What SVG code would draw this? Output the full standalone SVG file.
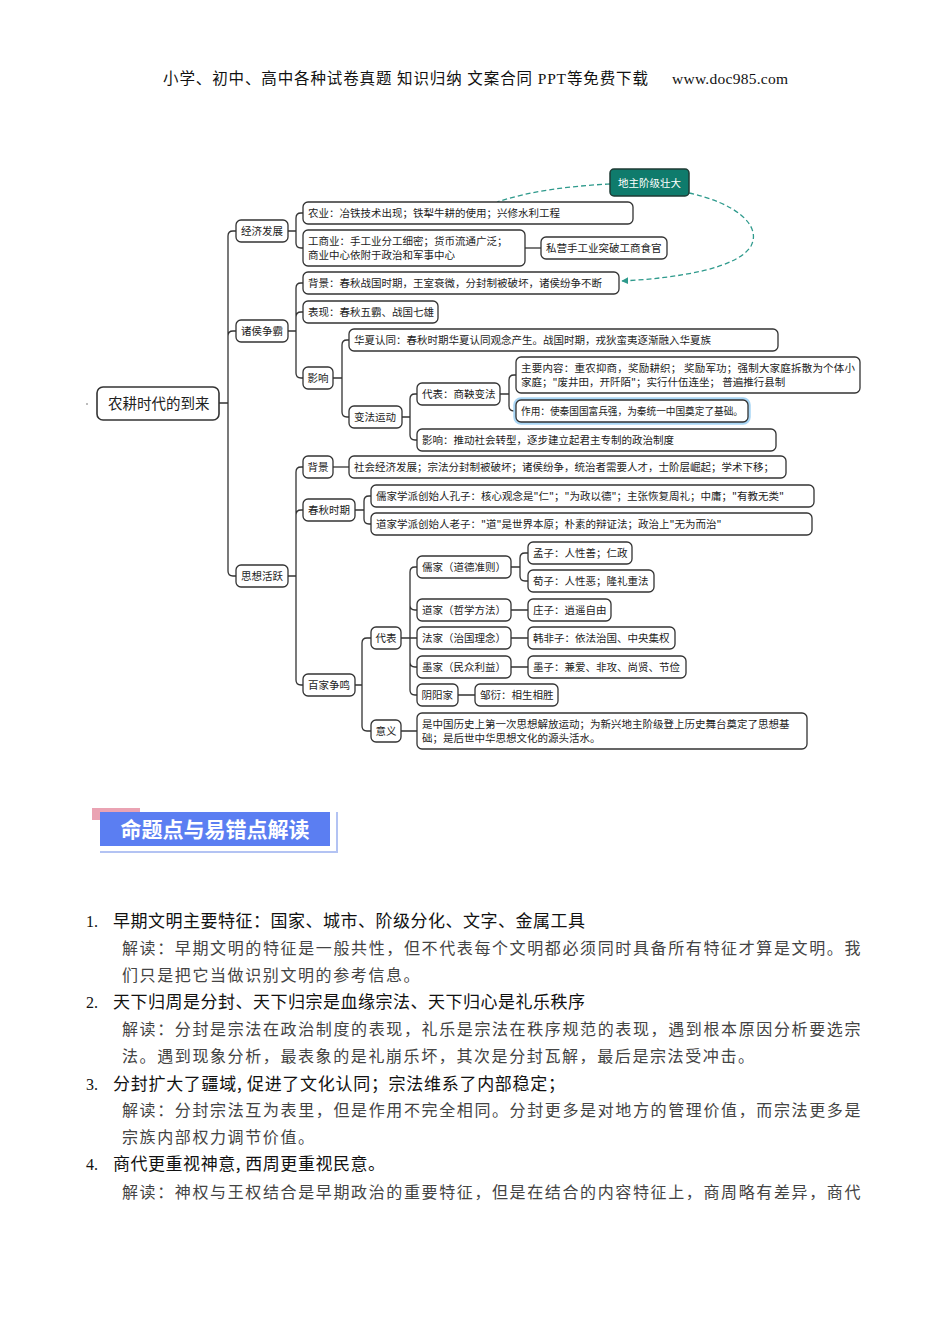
<svg xmlns="http://www.w3.org/2000/svg" width="950" height="1344" viewBox="0 0 950 1344">
<style>
.n{fill:#fff;stroke:#333;stroke-width:1.3}
.t{font-family:"Noto Sans CJK SC","Noto Sans",sans-serif;font-size:10.5px;fill:#222}
.c{fill:none;stroke:#333;stroke-width:1.3}
.d{fill:none;stroke:#2e9a8c;stroke-width:1.3;stroke-dasharray:5 3}
.h{font-family:"Liberation Serif","Noto Sans CJK SC",serif;font-size:15.5px;fill:#111}
.q{font-family:"Noto Sans CJK SC",sans-serif;font-size:17px;fill:#111}
.e{font-family:"Noto Sans CJK SC",sans-serif;font-size:16px;fill:#444;letter-spacing:1.6px}
.num{font-family:"Liberation Serif",serif;font-size:16px;fill:#111}
</style>
<defs>
<marker id="ah" viewBox="0 0 10 10" refX="9" refY="5" markerWidth="7" markerHeight="7" orient="auto-start-reverse" markerUnits="userSpaceOnUse">
<path d="M0 0 L10 5 L0 10 z" fill="#2e9a8c"/>
</marker>
</defs>
<rect width="950" height="1344" fill="#fff"/>
<g id="header">
<text class="h" x="163" y="84" textLength="485" lengthAdjust="spacing">小学、初中、高中各种试卷真题 知识归纳 文案合同 PPT等免费下载</text>
<text class="h" x="672" y="84" textLength="116" lengthAdjust="spacing">www.doc985.com</text>
</g>
<g id="connectors">
<path class="c" d="M219 403 H228 V236 Q228 231 233 231 H236 M228 403 V336 Q228 331 233 331 H236 M228 403 V571 Q228 576 233 576 H236"/>
<path class="c" d="M288 231 H296 V218 Q296 213 301 213 H303 M296 231 V243 Q296 248 301 248 H303"/>
<path class="c" d="M525 248 H541"/>
<path class="c" d="M288 331 H296 V288 Q296 283 301 283 H303 M296 331 V317 Q296 312 301 312 H303 M296 331 V373 Q296 378 301 378 H303"/>
<path class="c" d="M333 378 H342 V345 Q342 340 347 340 H349 M342 378 V412 Q342 417 347 417 H349"/>
<path class="c" d="M402 417 H410 V399 Q410 394 415 394 H417 M410 417 V435 Q410 440 415 440 H417"/>
<path class="c" d="M500 394 H509 V380 Q509 375 514 375 H516 M509 394 V406 Q509 411 514 411 H516"/>
<path class="c" d="M288 576 H296 V472 Q296 467 301 467 H303 M296 576 V515 Q296 510 301 510 H303 M296 576 V680 Q296 685 301 685 H303"/>
<path class="c" d="M333 467 H349"/>
<path class="c" d="M355 510 H364 V501 Q364 496 369 496 H371 M364 510 V519 Q364 524 369 524 H371"/>
<path class="c" d="M355 685 H362 V643 Q362 638 367 638 H371 M362 685 V726 Q362 731 367 731 H371"/>
<path class="c" d="M401 638 H417 M410 638 V572 Q410 567 415 567 H417 M410 638 V605 Q410 610 415 610 H417 M410 638 V662 Q410 667 415 667 H417 M410 638 V690 Q410 695 415 695 H417"/>
<path class="c" d="M511 567 H520 V558 Q520 553 525 553 H528 M520 567 V576 Q520 581 525 581 H528"/>
<path class="c" d="M511 610 H528 M511 638 H528 M511 667 H528 M458 695 H475 M401 731 H417"/>
<path class="d" d="M610 184 C570 186 530 191 497 202"/>
<path class="d" d="M689 193 C735 203 762 225 751 246 C738 268 680 278 622 281" marker-end="url(#ah)"/>
</g>
<g id="root">
<circle cx="87" cy="404" r="0.8" fill="#666"/>
<rect class="n" x="97" y="387" width="122" height="33" rx="6" style="stroke-width:1.6"/>
<text class="t" x="108" y="409" style="font-size:14.5px">农耕时代的到来</text>
</g>
<g id="n-jingji"><rect class="n" x="236" y="220" width="52" height="22" rx="5"/><text class="t" x="241" y="235">经济发展</text></g>
<g id="n-zhuhou"><rect class="n" x="236" y="320" width="52" height="22" rx="5"/><text class="t" x="241" y="335">诸侯争霸</text></g>
<g id="n-sixiang"><rect class="n" x="236" y="565" width="52" height="22" rx="5"/><text class="t" x="241" y="580">思想活跃</text></g>
<g id="n-nongye"><rect class="n" x="303" y="202" width="330" height="22" rx="5"/><text class="t" x="308" y="217">农业：冶铁技术出现；铁犁牛耕的使用；兴修水利工程</text></g>
<g id="n-gongshang"><rect class="n" x="303" y="230" width="222" height="36" rx="5"/><text class="t" x="308" y="245">工商业：手工业分工细密；货币流通广泛；</text><text class="t" x="308" y="259">商业中心依附于政治和军事中心</text></g>
<g id="n-siying"><rect class="n" x="541" y="237" width="126" height="22" rx="5"/><text class="t" x="546" y="252">私营手工业突破工商食官</text></g>
<g id="n-dizhu"><rect x="610" y="169" width="79" height="27" rx="4" fill="#0f7b6c" stroke="#1f3b35" stroke-width="1.5"/><text class="t" x="649.5" y="186.5" text-anchor="middle" style="fill:#fff">地主阶级壮大</text></g>
<g id="n-beijing1"><rect class="n" x="303" y="272" width="316" height="22" rx="5"/><text class="t" x="308" y="287">背景：春秋战国时期，王室衰微，分封制被破坏，诸侯纷争不断</text></g>
<g id="n-biaoxian"><rect class="n" x="303" y="301" width="135" height="22" rx="5"/><text class="t" x="308" y="316">表现：春秋五霸、战国七雄</text></g>
<g id="n-yingxiang"><rect class="n" x="303" y="367" width="30" height="22" rx="5"/><text class="t" x="307.5" y="382">影响</text></g>
<g id="n-huaxia"><rect class="n" x="349" y="329" width="429" height="22" rx="5"/><text class="t" x="354" y="344">华夏认同：春秋时期华夏认同观念产生。战国时期，戎狄蛮夷逐渐融入华夏族</text></g>
<g id="n-bianfa"><rect class="n" x="349" y="406" width="53" height="22" rx="5"/><text class="t" x="354" y="421">变法运动</text></g>
<g id="n-daibiao1"><rect class="n" x="417" y="383" width="83" height="22" rx="5"/><text class="t" x="422" y="398">代表：商鞅变法</text></g>
<g id="n-zhuyao"><rect class="n" x="516" y="357" width="344" height="36" rx="5"/><text class="t" x="521" y="372" textLength="334" lengthAdjust="spacing">主要内容：重农抑商，奖励耕织； 奖励军功；强制大家庭拆散为个体小</text><text class="t" x="521" y="386">家庭；"废井田，开阡陌"；实行什伍连坐； 普遍推行县制</text></g>
<g id="n-zuoyong"><rect x="515" y="399" width="234" height="24" rx="6" fill="none" stroke="#a9d6f5" stroke-width="3.5"/><rect class="n" x="516" y="400" width="232" height="22" rx="5"/><text class="t" x="521" y="415" textLength="222" lengthAdjust="spacingAndGlyphs">作用：使秦国国富兵强，为秦统一中国奠定了基础。</text></g>
<g id="n-yingxiang2"><rect class="n" x="417" y="429" width="359" height="22" rx="5"/><text class="t" x="422" y="444">影响：推动社会转型，逐步建立起君主专制的政治制度</text></g>
<g id="n-beijing2"><rect class="n" x="303" y="456" width="30" height="22" rx="5"/><text class="t" x="307.5" y="471">背景</text></g>
<g id="n-shehui"><rect class="n" x="349" y="456" width="437" height="22" rx="5"/><text class="t" x="354" y="471">社会经济发展；宗法分封制被破坏；诸侯纷争，统治者需要人才，士阶层崛起；学术下移；</text></g>
<g id="n-chunqiu"><rect class="n" x="303" y="499" width="52" height="22" rx="5"/><text class="t" x="308" y="514">春秋时期</text></g>
<g id="n-kongzi"><rect class="n" x="371" y="485" width="443" height="22" rx="5"/><text class="t" x="376" y="500">儒家学派创始人孔子：核心观念是"仁"；"为政以德"；主张恢复周礼；中庸；"有教无类"</text></g>
<g id="n-laozi"><rect class="n" x="371" y="513" width="441" height="22" rx="5"/><text class="t" x="376" y="528">道家学派创始人老子："道"是世界本原；朴素的辩证法；政治上"无为而治"</text></g>
<g id="n-baijia"><rect class="n" x="303" y="674" width="52" height="22" rx="5"/><text class="t" x="308" y="689">百家争鸣</text></g>
<g id="n-daibiao2"><rect class="n" x="371" y="627" width="30" height="22" rx="5"/><text class="t" x="375.5" y="642">代表</text></g>
<g id="n-rujia"><rect class="n" x="417" y="556" width="94" height="22" rx="5"/><text class="t" x="422" y="571">儒家（道德准则）</text></g>
<g id="n-mengzi"><rect class="n" x="528" y="542" width="104" height="22" rx="5"/><text class="t" x="533" y="557">孟子：人性善；仁政</text></g>
<g id="n-xunzi"><rect class="n" x="528" y="570" width="126" height="22" rx="5"/><text class="t" x="533" y="585">荀子：人性恶；隆礼重法</text></g>
<g id="n-daojia"><rect class="n" x="417" y="599" width="94" height="22" rx="5"/><text class="t" x="422" y="614">道家（哲学方法）</text></g>
<g id="n-zhuangzi"><rect class="n" x="528" y="599" width="83" height="22" rx="5"/><text class="t" x="533" y="614">庄子：逍遥自由</text></g>
<g id="n-fajia"><rect class="n" x="417" y="627" width="94" height="22" rx="5"/><text class="t" x="422" y="642">法家（治国理念）</text></g>
<g id="n-hanfeizi"><rect class="n" x="528" y="627" width="147" height="22" rx="5"/><text class="t" x="533" y="642">韩非子：依法治国、中央集权</text></g>
<g id="n-mojia"><rect class="n" x="417" y="656" width="94" height="22" rx="5"/><text class="t" x="422" y="671">墨家（民众利益）</text></g>
<g id="n-mozi"><rect class="n" x="528" y="656" width="158" height="22" rx="5"/><text class="t" x="533" y="671">墨子：兼爱、非攻、尚贤、节俭</text></g>
<g id="n-yinyang"><rect class="n" x="417" y="684" width="41" height="22" rx="5"/><text class="t" x="421.5" y="699">阴阳家</text></g>
<g id="n-zouyan"><rect class="n" x="475" y="684" width="83" height="22" rx="5"/><text class="t" x="480" y="699">邹衍：相生相胜</text></g>
<g id="n-yiyi"><rect class="n" x="371" y="720" width="30" height="22" rx="5"/><text class="t" x="375.5" y="735">意义</text></g>
<g id="n-yiyi2"><rect class="n" x="417" y="713" width="390" height="36" rx="5"/><text class="t" x="422" y="728">是中国历史上第一次思想解放运动；为新兴地主阶级登上历史舞台奠定了思想基</text><text class="t" x="422" y="742">础；是后世中华思想文化的源头活水。</text></g>
<g id="banner">
<rect x="92" y="808" width="48" height="12" fill="#eaa3b3"/>
<path d="M337 812 V852 H100" fill="none" stroke="#b3c3f3" stroke-width="2"/>
<rect x="100" y="812" width="230" height="34" fill="#5b7ef2"/>
<text x="215" y="837" text-anchor="middle" style="font-family:'Noto Sans CJK SC',sans-serif;font-size:21px;font-weight:bold;fill:#fff">命题点与易错点解读</text>
</g>
<g id="body">
<text class="num" x="86" y="927">1.</text>
<text class="q" x="113" y="927" textLength="472" lengthAdjust="spacing">早期文明主要特征：国家、城市、阶级分化、文字、金属工具</text>
<text class="e" x="122" y="954" textLength="740" lengthAdjust="spacing">解读：早期文明的特征是一般共性，但不代表每个文明都必须同时具备所有特征才算是文明。我</text>
<text class="e" x="122" y="981">们只是把它当做识别文明的参考信息。</text>
<text class="num" x="86" y="1008">2.</text>
<text class="q" x="113" y="1008" textLength="472" lengthAdjust="spacing">天下归周是分封、天下归宗是血缘宗法、天下归心是礼乐秩序</text>
<text class="e" x="122" y="1035" textLength="740" lengthAdjust="spacing">解读：分封是宗法在政治制度的表现，礼乐是宗法在秩序规范的表现，遇到根本原因分析要选宗</text>
<text class="e" x="122" y="1062">法。遇到现象分析，最表象的是礼崩乐坏，其次是分封瓦解，最后是宗法受冲击。</text>
<text class="num" x="86" y="1090">3.</text>
<text class="q" x="113" y="1090" textLength="452" lengthAdjust="spacing">分封扩大了疆域, 促进了文化认同；宗法维系了内部稳定；</text>
<text class="e" x="122" y="1116" textLength="740" lengthAdjust="spacing">解读：分封宗法互为表里，但是作用不完全相同。分封更多是对地方的管理价值，而宗法更多是</text>
<text class="e" x="122" y="1143">宗族内部权力调节价值。</text>
<text class="num" x="86" y="1170">4.</text>
<text class="q" x="113" y="1170" textLength="272" lengthAdjust="spacing">商代更重视神意, 西周更重视民意。</text>
<text class="e" x="122" y="1198" textLength="740" lengthAdjust="spacing">解读：神权与王权结合是早期政治的重要特征，但是在结合的内容特征上，商周略有差异，商代</text>
</g>
</svg>
